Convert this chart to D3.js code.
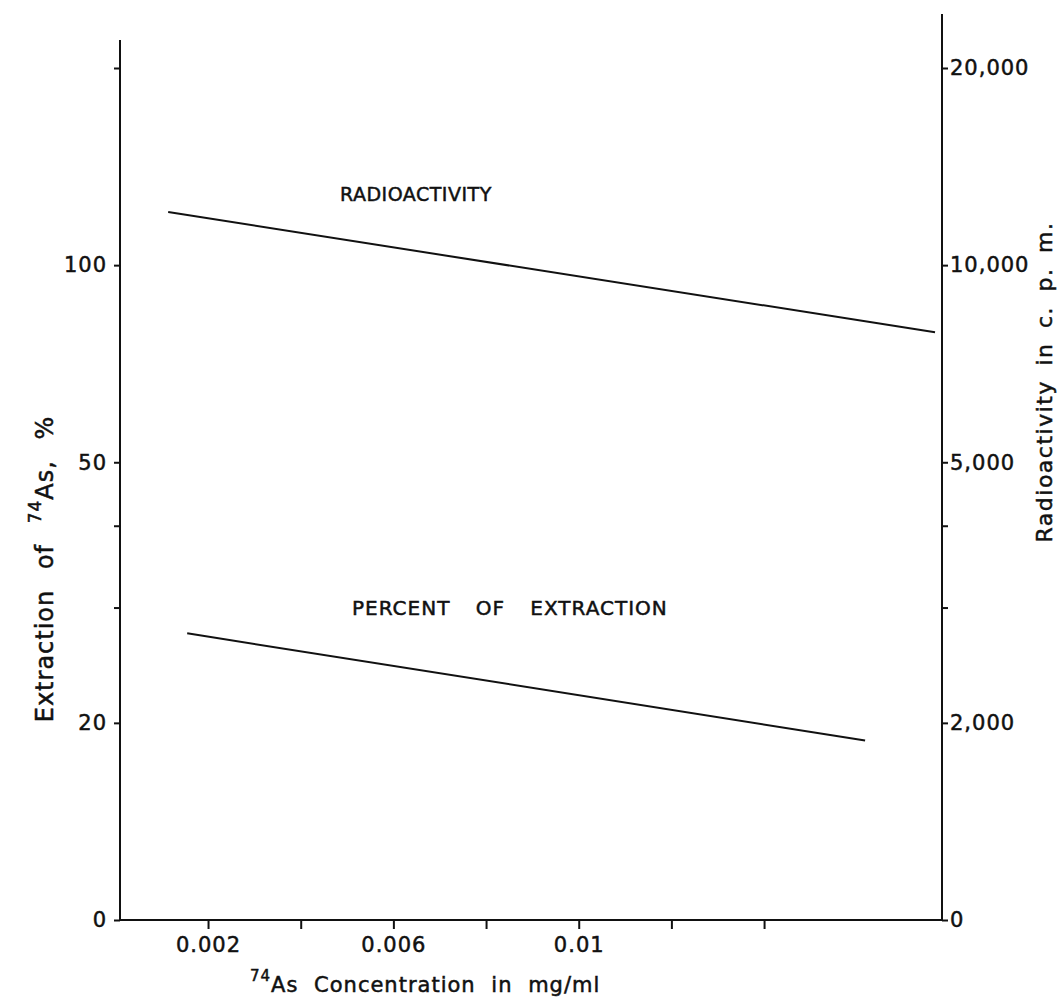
<!DOCTYPE html>
<html lang="en">
<head>
    <meta charset="UTF-8">
    <title>Extraction of 74As vs concentration</title>
    <script src="https://d3js.org/d3.v7.min.js"></script>
    <style>
        body {
            margin: 0;
            background: #fff;
            overflow: hidden;
        }
        text {
            font-family: "DejaVu Sans", Arial, sans-serif;
            fill: #111;
            stroke: #111;
            stroke-width: 0.5px;
        }
        .axis line {
            stroke: #111;
            stroke-width: 2px;
        }
        .axis text {
            font-size: 21px;
            letter-spacing: 1px;
        }
        .frame {
            stroke: #111;
            stroke-width: 2px;
        }
        .series {
            fill: none;
            stroke: #111;
            stroke-width: 2px;
        }
    </style>
</head>
<body>
    <script>
        // Bottom axis ticks (mg/ml)
        const xTicks = [0.002, 0.004, 0.006, 0.008, 0.010, 0.012, 0.014];
        const xTickLabels = ["0.002", "", "0.006", "", "0.01", "", ""];

        // Left axis: percent extraction, log paper (bottom tick is labelled 0)
        const leftTicks = [10, 20, 30, 40, 50, 100, 200];
        const leftTickLabels = ["0", "20", "", "", "50", "100", ""];

        // Right axis: radioactivity in c.p.m.
        const rightTicks = [1000, 2000, 3000, 4000, 5000, 10000, 20000];
        const rightTickLabels = ["0", "2,000", "", "", "5,000", "10,000", "20,000"];

        // Series
        const radioConc = [0.00114, 0.01769];
        const radioCpm = [12050, 7900];
        const extractConc = [0.00155, 0.01618];
        const extractPct = [27.4, 18.8];

        const width = 1062, height = 1001;
        const left = 120, right = 942, bottom = 920;

        const svg = d3.select("body").append("svg")
            .attr("width", width)
            .attr("height", height);

        const x = d3.scaleLinear().domain([0.0001, 0.01784]).range([left, right]);
        const yL = d3.scaleLog().domain([10, 200]).range([bottom, 68]);
        const yR = d3.scaleLog().domain([1000, 20000]).range([bottom, 68]);

        // axes
        const gx = svg.append("g").attr("class", "axis")
            .attr("transform", `translate(0,${bottom})`)
            .call(d3.axisBottom(x).tickValues(xTicks)
                .tickFormat((d, i) => xTickLabels[i]).tickSize(9).tickPadding(8));
        gx.select(".domain").remove();
        svg.append("line").attr("class", "frame")
            .attr("x1", left).attr("x2", right).attr("y1", bottom).attr("y2", bottom);

        const gl = svg.append("g").attr("class", "axis")
            .attr("transform", `translate(${left},0)`)
            .call(d3.axisLeft(yL).tickValues(leftTicks)
                .tickFormat((d, i) => leftTickLabels[i]).tickSize(6).tickPadding(7));
        gl.select(".domain").remove();
        svg.append("line").attr("class", "frame")
            .attr("x1", left).attr("x2", left).attr("y1", bottom).attr("y2", 40);

        const gr = svg.append("g").attr("class", "axis")
            .attr("transform", `translate(${right},0)`)
            .call(d3.axisRight(yR).tickValues(rightTicks)
                .tickFormat((d, i) => rightTickLabels[i]).tickSize(6).tickPadding(2));
        gr.select(".domain").remove();
        svg.append("line").attr("class", "frame")
            .attr("x1", right).attr("x2", right).attr("y1", bottom).attr("y2", 14);

        // lines
        const line = d3.line();
        svg.append("path").attr("class", "series")
            .attr("d", line(d3.zip(radioConc, radioCpm).map(d => [x(d[0]), yR(d[1])])));
        svg.append("path").attr("class", "series")
            .attr("d", line(d3.zip(extractConc, extractPct).map(d => [x(d[0]), yL(d[1])])));

        // line labels
        svg.append("text").attr("x", 340).attr("y", 201)
            .style("font-size", "19px").style("letter-spacing", "0.5px")
            .text("RADIOACTIVITY");
        svg.append("text").attr("x", 352).attr("y", 615)
            .style("font-size", "20px").style("letter-spacing", "1px")
            .style("word-spacing", "18px")
            .text("PERCENT OF EXTRACTION");

        // axis titles
        const xt = svg.append("text").attr("x", 250).attr("y", 992)
            .style("font-size", "21px").style("letter-spacing", "1px")
            .style("word-spacing", "8px");
        xt.append("tspan").attr("dy", -11).style("font-size", "15px").text("74");
        xt.append("tspan").attr("dy", 11).text("As Concentration in mg/ml");

        const lt = svg.append("text")
            .attr("transform", "translate(53,569) rotate(-90)")
            .attr("text-anchor", "middle")
            .style("font-size", "24px").style("letter-spacing", "1px")
            .style("word-spacing", "12px");
        lt.append("tspan").text("Extraction of ");
        lt.append("tspan").attr("dy", -12).style("font-size", "17px").text("74");
        lt.append("tspan").attr("dy", 12).text("As, %");

        svg.append("text")
            .attr("transform", "translate(1052,382) rotate(-90)")
            .attr("text-anchor", "middle")
            .style("font-size", "22px").style("letter-spacing", "1.5px")
            .style("word-spacing", "6px")
            .text("Radioactivity in c. p. m.");
    </script>
</body>
</html>
